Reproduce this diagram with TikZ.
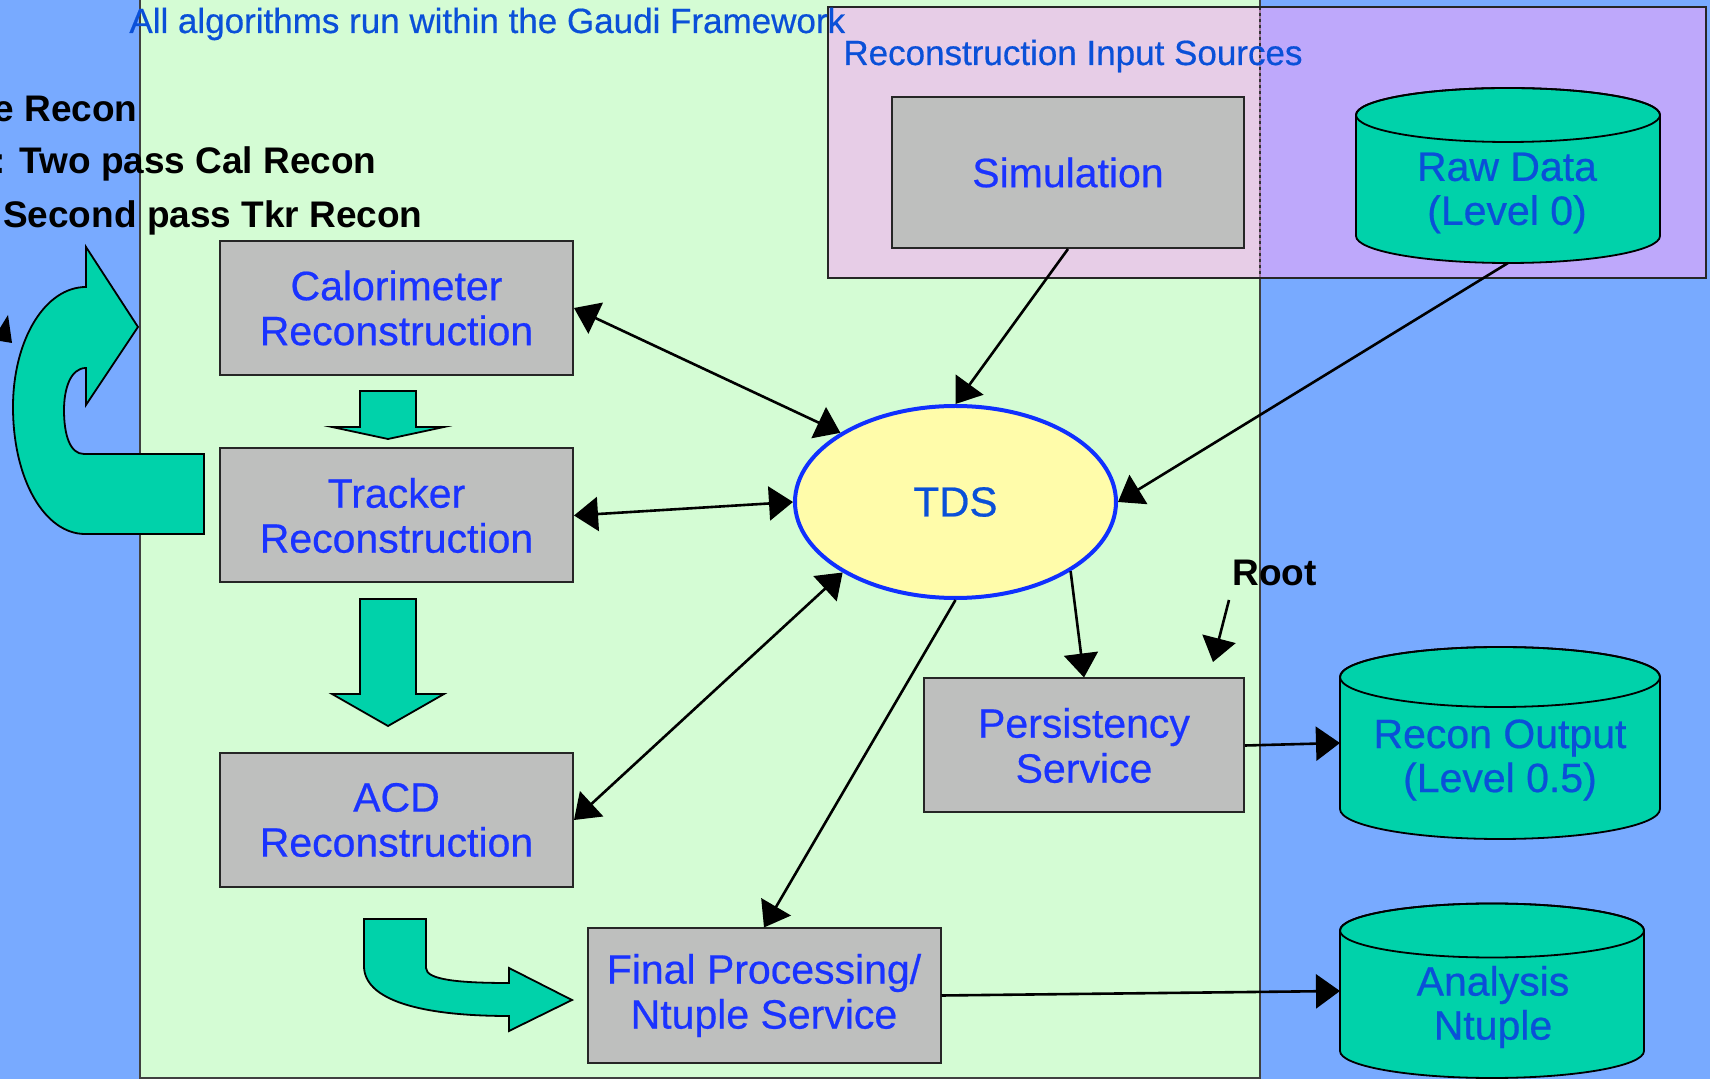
\documentclass[tikz,border=0pt]{standalone}
\usepackage{fontspec}
\setmainfont{Liberation Sans}
\newfontfamily\lblfont[FakeBold=0.5]{Liberation Sans}
\usetikzlibrary{arrows.meta,shapes.geometric}
\definecolor{bgblue}{HTML}{78AAFF}
\definecolor{fwgreen}{HTML}{D4FCD4}
\definecolor{boxgray}{HTML}{BEBFBE}
\definecolor{cylteal}{HTML}{00D2AA}
\definecolor{tdsyellow}{HTML}{FFFCAA}
\definecolor{tdsborder}{HTML}{1030FF}
\definecolor{lblblue}{HTML}{1A33FF}
\definecolor{dkblue}{HTML}{0A50D8}
\definecolor{pinkc}{HTML}{F8A8F8}
\begin{document}
\begin{tikzpicture}[x=0.5pt,y=-0.5pt,
  procbox/.style={draw=black!85, line width=1pt, fill=boxgray, text=lblblue,
    font=\lblfont\fontsize{20.5}{22.5}\selectfont, align=center, inner sep=0pt,
    minimum width=176.5pt, minimum height=67pt},
  cyltext/.style={text=dkblue, font=\lblfont\fontsize{20.5}{22}\selectfont, align=center, inner sep=0pt},
  anchorbox/.style={draw=none, inner sep=0pt, outer sep=0pt},
  cyl/.style={fill=cylteal, draw=black, line width=0.9pt},
  blockarr/.style={fill=cylteal, draw=black, line width=0.9pt, line join=miter},
  toplbl/.style={text=dkblue, font=\lblfont\fontsize{17.5}{20}\selectfont, inner sep=0pt},
  blacklbl/.style={text=black, font=\bfseries\fontsize{18.5}{20}\selectfont, inner sep=0pt},
  conn/.style={line width=1.3pt, -{Triangle[length=12pt,width=17pt]}},
  biconn/.style={line width=1.3pt, {Triangle[length=12pt,width=17pt]}-{Triangle[length=12pt,width=17pt]}}
]
\useasboundingbox (0,0) rectangle (1710,1079);
\fill[bgblue] (0,0) rectangle (1710,1079);
% framework area
\filldraw[fill=fwgreen, draw=black!75, line width=0.8pt] (140,-10) rectangle (1260,1078);
% input sources overlay
\fill[pinkc, opacity=0.55] (828,7) rectangle (1706,278);
\draw[black!80, line width=0.8pt, dash pattern=on 1.5pt off 1.5pt] (1260,7) -- (1260,278);
\draw[black!85, line width=1pt] (828,7) rectangle (1706,278);

% labels
\node[toplbl, anchor=base west] (fwlbl) at (129,33) {All algorithms run within the Gaudi Framework};
\node[toplbl, anchor=base west] (srclbl) at (843,65) {Reconstruction Input Sources};
\node[blacklbl, anchor=base east] (lbla) at (138,122) {e Recon};
\node[blacklbl, anchor=base east] (lblb) at (377,174) {: Two pass Cal Recon};
\node[blacklbl, anchor=base east] (lblc) at (423,228) {Second pass Tkr Recon};
\node[blacklbl, anchor=base west] (root) at (1232,586) {Root};

% left U-turn block arrow
\path[blockarr] (86,287) -- (86,247) -- (138,327) -- (86,405) -- (86,368)
  .. controls (70,368) and (64,390) .. (64,410)
  .. controls (64,435) and (70,454) .. (84,454)
  -- (204,454) -- (204,534) -- (85,534)
  .. controls (45,534) and (13,480) .. (13,407)
  .. controls (13,340) and (45,287) .. (86,287) -- cycle;
\fill[black] (0,328) -- (8,315) -- (12,343) -- (0,341) -- cycle;

% processing boxes
\node[procbox] (cal) at (396.5,308) {Calorimeter\\Reconstruction};
\node[procbox] (trk) at (396.5,515.5) {Tracker\\Reconstruction};
\node[procbox] (acd) at (396.5,820) {ACD\\Reconstruction};
\node[procbox] (fin) at (764,995.5) {Final Processing/\\Ntuple Service};
\node[procbox, minimum width=160pt] (per) at (1084,745.5) {Persistency\\Service};
\node[procbox, minimum width=176pt, minimum height=75.5pt] (sim) at (1068,172.5) {Simulation};

% block arrows between algorithms
\path[blockarr] (360,391) -- (416,391) -- (416,427) -- (444,427) -- (388,439) -- (332,427) -- (360,427) -- cycle;
\path[blockarr] (360,599) -- (416,599) -- (416,694) -- (444,694) -- (388,726) -- (332,694) -- (360,694) -- cycle;
\path[blockarr] (364,919) -- (426,919) -- (426,968)
  .. controls (426,980) and (460,983) .. (509,983)
  -- (509,968) -- (572,1000) -- (509,1031) -- (509,1016)
  .. controls (420,1016) and (364,1000) .. (364,966) -- cycle;

% TDS
\node[ellipse, draw=tdsborder, line width=2pt, fill=tdsyellow, minimum width=160.5pt,
  minimum height=96pt, inner sep=0pt, text=dkblue, font=\lblfont\fontsize{21}{24}\selectfont] (tds) at (955.5,502) {TDS};

% cylinders
\path[cyl] (1356,115) -- (1356,236) arc[start angle=180,end angle=360,x radius=76pt,y radius=13.5pt]
  -- (1660,115) arc[start angle=0,end angle=180,x radius=76pt,y radius=13.5pt] -- cycle;
\draw[black, line width=0.9pt] (1508,115) ellipse [x radius=76pt, y radius=13.5pt];
\path[cyl] (1340,677) -- (1340,809) arc[start angle=180,end angle=360,x radius=80pt,y radius=15pt]
  -- (1660,677) arc[start angle=0,end angle=180,x radius=80pt,y radius=15pt] -- cycle;
\draw[black, line width=0.9pt] (1500,677) ellipse [x radius=80pt, y radius=15pt];
\path[cyl] (1340,930.5) -- (1340,1051) arc[start angle=180,end angle=360,x radius=76pt,y radius=13.5pt]
  -- (1644,930.5) arc[start angle=0,end angle=180,x radius=76pt,y radius=13.5pt] -- cycle;
\draw[black, line width=0.9pt] (1492,930.5) ellipse [x radius=76pt, y radius=13.5pt];

\node[anchorbox, minimum width=152pt, minimum height=87.5pt] (raw) at (1508,175.5) {};
\node[anchorbox, minimum width=160pt, minimum height=96pt] (rec) at (1500,743) {};
\node[anchorbox, minimum width=152pt, minimum height=87pt] (ana) at (1492,991) {};
\node[cyltext] (rawtxt) at (1507,193) {Raw Data\\(Level 0)};
\node[cyltext] (rectxt) at (1500,760) {Recon Output\\(Level 0.5)};
\node[cyltext] (anatxt) at (1493,1007) {Analysis\\Ntuple};

% connectors
\draw[biconn] (cal.east) -- (tds.149);
\draw[biconn] (trk.east) -- (tds.west);
\draw[biconn] (acd.east) -- (tds.212);
\draw[conn] (sim.south) -- (tds.north);
\draw[conn] (raw.south) -- (tds.east);
\draw[conn] (tds.329) -- (per.north);
\draw[conn] (tds.south) -- (fin.north);
\draw[conn] (per.east) -- (rec.west);
\draw[conn] (fin.east) -- (ana.west);
\coordinate (rootA) at (1229,600);
\coordinate (rootB) at (1213,662);
\draw[conn] (rootA) -- (rootB);
\end{tikzpicture}
\end{document}
